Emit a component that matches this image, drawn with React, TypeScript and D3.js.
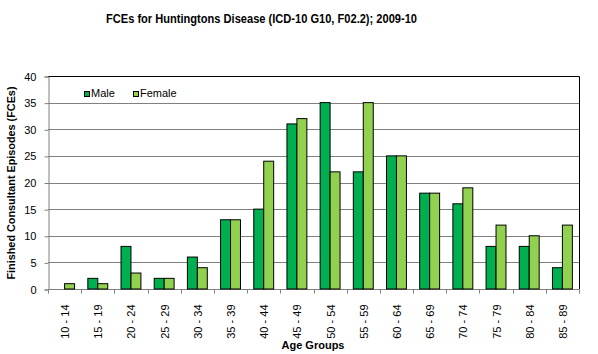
import { useEffect, useRef } from "react";
import * as d3 from "d3";

const ageGroups = [
  "10 - 14", "15 - 19", "20 - 24", "25 - 29", "30 - 34", "35 - 39", "40 - 44", "45 - 49",
  "50 - 54", "55 - 59", "60 - 64", "65 - 69", "70 - 74", "75 - 79", "80 - 84", "85 - 89",
];
const maleValues = [0, 2, 8, 2, 6, 13, 15, 31, 35, 22, 25, 18, 16, 8, 8, 4];
const femaleValues = [1, 1, 3, 2, 4, 13, 24, 32, 22, 35, 25, 18, 19, 12, 10, 12];
const yTicks = [0, 5, 10, 15, 20, 25, 30, 35, 40];

const seriesNames = ["Male", "Female"];
const seriesColors = ["#00B050", "#92D050"];

const FONT = "'Liberation Sans', Arial, sans-serif";

export default function App() {
  const svgRef = useRef<SVGSVGElement>(null);

  useEffect(() => {
    if (!svgRef.current) return;
    const width = 598;
    const height = 354;
    const plot = { left: 48, right: 579, top: 76, bottom: 289 };

    const svg = d3.select(svgRef.current).attr("width", width).attr("height", height);
    svg.selectAll("*").remove();

    const x = d3.scaleBand<string>().domain(ageGroups).range([plot.left, plot.right]).padding(0);
    // two bars take the middle 60% of each category slot
    const inner = d3
      .scaleBand<string>()
      .domain(seriesNames)
      .range([x.bandwidth() * 0.2, x.bandwidth() * 0.8]);
    const y = d3.scaleLinear().domain([0, 40]).range([plot.bottom, plot.top]);

    // title
    svg.append("text")
      .attr("x", 106)
      .attr("y", 23)
      .attr("textLength", 311)
      .attr("lengthAdjust", "spacingAndGlyphs")
      .style("font-family", FONT)
      .style("font-size", "13px")
      .style("font-weight", "bold")
      .text("FCEs for Huntingtons Disease (ICD-10 G10, F02.2); 2009-10");

    // gridlines
    svg.append("g")
      .selectAll("line")
      .data(yTicks.filter((t) => t > 0 && t < 40))
      .join("line")
      .attr("x1", plot.left)
      .attr("x2", plot.right)
      .attr("y1", (d) => Math.round(y(d)) + 0.5)
      .attr("y2", (d) => Math.round(y(d)) + 0.5)
      .attr("stroke", "#808080");

    // plot border (top + right)
    svg.append("path")
      .attr("d", `M${plot.left},${plot.top + 0.5}H${plot.right + 0.5}V${plot.bottom}`)
      .attr("fill", "none")
      .attr("stroke", "#000");

    // y axis
    const yAxis = svg.append("g")
      .attr("transform", `translate(${plot.left + 0.5},0.5)`)
      .call(d3.axisLeft(y).tickValues(yTicks).tickSize(4).tickPadding(8));
    yAxis.selectAll("line, path").attr("stroke", "#808080");
    yAxis.selectAll("text")
      .style("font-family", FONT)
      .style("font-size", "11px")
      .attr("fill", "#000");

    // x axis
    const xAxis = svg.append("g").attr("transform", `translate(0.5,${plot.bottom + 0.5})`);
    xAxis.append("line")
      .attr("x1", plot.left)
      .attr("x2", plot.right)
      .attr("stroke", "#808080");
    xAxis.selectAll("line.tick")
      .data(d3.range(ageGroups.length + 1))
      .join("line")
      .attr("class", "tick")
      .attr("x1", (i) => Math.round(plot.left + i * x.step()))
      .attr("x2", (i) => Math.round(plot.left + i * x.step()))
      .attr("y1", 0)
      .attr("y2", 4)
      .attr("stroke", "#808080");
    xAxis.selectAll("text")
      .data(ageGroups)
      .join("text")
      .attr("transform", (d) => `translate(${x(d)! + x.bandwidth() / 2 + 4},15) rotate(-90)`)
      .attr("text-anchor", "end")
      .style("font-family", FONT)
      .style("font-size", "11px")
      .text((d) => d);

    // bars
    const groups = svg.append("g")
      .selectAll("g")
      .data(ageGroups)
      .join("g")
      .attr("transform", (d) => `translate(${x(d)},0)`);
    groups.selectAll("rect")
      .data((_, i) => [
        { name: seriesNames[0], value: maleValues[i], color: seriesColors[0] },
        { name: seriesNames[1], value: femaleValues[i], color: seriesColors[1] },
      ].filter((b) => b.value > 0))
      .join("rect")
      .attr("x", (d) => inner(d.name)!)
      .attr("y", (d) => y(d.value))
      .attr("width", inner.bandwidth())
      .attr("height", (d) => y(0) - y(d.value))
      .attr("fill", (d) => d.color)
      .attr("stroke", "#000")
      .attr("stroke-width", 1);

    // axis titles
    svg.append("text")
      .attr("transform", `translate(15,183) rotate(-90)`)
      .attr("text-anchor", "middle")
      .attr("textLength", 193)
      .attr("lengthAdjust", "spacingAndGlyphs")
      .style("font-family", FONT)
      .style("font-size", "11px")
      .style("font-weight", "bold")
      .text("Finished Consultant Episodes (FCEs)");
    svg.append("text")
      .attr("x", 313)
      .attr("y", 349)
      .attr("text-anchor", "middle")
      .style("font-family", FONT)
      .style("font-size", "11px")
      .style("font-weight", "bold")
      .text("Age Groups");

    // legend
    const legend = svg.append("g").attr("transform", "translate(84,91)");
    const items = legend.selectAll("g")
      .data(seriesNames)
      .join("g")
      .attr("transform", (_, i) => `translate(${i * 49},0)`);
    items.append("rect")
      .attr("x", 0.5)
      .attr("y", 0.5)
      .attr("width", 5)
      .attr("height", 5)
      .attr("fill", (_, i) => seriesColors[i])
      .attr("stroke", "#000");
    items.append("text")
      .attr("x", 7)
      .attr("y", 6)
      .style("font-family", FONT)
      .style("font-size", "11px")
      .text((d) => d);
  }, []);

  return (
    <svg
      ref={svgRef}
      style={{ position: "absolute", left: 0, top: 0, background: "#fff" }}
      role="img"
      aria-label="FCEs for Huntingtons Disease bar chart"
    />
  );
}
